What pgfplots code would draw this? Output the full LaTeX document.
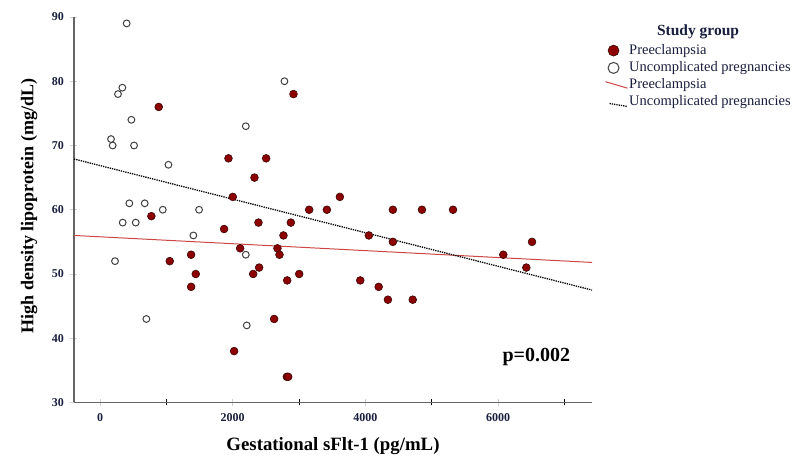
\documentclass[border=0pt]{standalone}
\usepackage{pgfplots}
\pgfplotsset{compat=1.18}
\usepackage{fontspec}
\setmainfont{Liberation Serif}
\definecolor{pe}{RGB}{140,0,0}
\definecolor{peedge}{RGB}{60,10,10}
\definecolor{redline}{RGB}{205,70,70}
\definecolor{ticktxt}{RGB}{25,30,60}
\definecolor{axgray}{RGB}{100,100,100}
\pgfplotsset{
  markleg/.style={legend image code/.code={\path[draw=none,fill=none] (0pt,0pt) -- (22pt,0pt);\draw[##1, mark size=5.5pt] plot[only marks] coordinates {(8pt,0pt)};}},
  redleg/.style={legend image code/.code={\path[draw=none,fill=none] (0pt,0pt) -- (22pt,0pt);\draw[##1] (0pt,3.5pt) -- (22pt,-3pt);}},
  dotleg/.style={legend image code/.code={\path[draw=none,fill=none] (0pt,0pt) -- (22pt,0pt);\draw[##1] (4pt,-1pt) -- (22pt,-4pt);}},
}
\begin{document}
\begin{tikzpicture}
\begin{axis}[
  at={(0,0)}, anchor=south west,
  scale only axis, width=518pt, height=385.5pt,
  xmin=-392, xmax=7415, ymin=30, ymax=90,
  axis lines*=left,
  axis line style={-, axgray, line width=1.3pt},
  xtick={0,2000,4000,6000},
  minor xtick={1000,3000,5000,7000},
  ytick={30,40,50,60,70,80,90},
  tick align=center,
  major tick length=7pt, minor tick length=6pt,
  tick style={gray!35, line width=0.8pt},
  minor tick style={black, line width=1pt},
  scaled x ticks=false,
  xticklabel style={font=\fontsize{12}{14}\selectfont\bfseries, text=ticktxt, yshift=-4pt},
  yticklabel style={font=\fontsize{12}{14}\selectfont\bfseries, text=ticktxt, xshift=-3pt},
  /pgf/number format/assume math mode=true,
  /pgf/number format/set thousands separator={},
  clip=false,
  legend style={at={(1.019,0.938)}, anchor=north west, draw=none, fill=none,
    font=\fontsize{14.5}{16}\selectfont, text=ticktxt,
    nodes={inner sep=1pt, text height=10pt, text depth=3pt},
    row sep=2.3pt},
  legend cell align=left,
]
\addplot[only marks, mark=*, mark size=3.9pt, mark options={fill=pe, draw=peedge, line width=0.6pt}, markleg]
coordinates {
(885,76)(2916,78)
(1936,68)(2504,68)
(2328,65)
(2001,62)(3615,62)
(3152,60)(3419,60)(4414,60)(4852,60)(5320,60)
(774,59)
(2388,58)(2876,58)
(1870,57)
(2765,56)(4052,56)
(4414,55)(6511,55)
(2112,54)(2674,54)
(2705,53)(1373,53)(6078,53)
(1051,52)
(2398,51)(6425,51)
(2308,50)(1443,50)(3002,50)
(2821,49)(3922,49)
(1373,48)(4200,48)
(4339,46)(4713,46)
(2624,43)
(2021,38)
(2816,34)(2836,34)
};
\addlegendentry{Preeclampsia}
\addplot[only marks, mark=*, mark size=3.4pt, mark options={fill=white, draw=black!75, line width=1pt}, markleg]
coordinates {
(402,89)(337,79)(271,78)(2780,80)(473,74)(2197,73)(166,71)(191,70)(513,70)
(1031,67)(442,61)(674,61)(946,60)(1493,60)(342,58)(538,58)(1407,56)
(2197,53)(226,52)(699,43)(2212,42)
};
\addlegendentry{Uncomplicated pregnancies}
\addplot[redline, line width=1pt, redleg]
coordinates {(-392,56.0)(7415,51.8)};
\addlegendentry{Preeclampsia}
\addplot[black, densely dotted, line width=1.3pt, dotleg]
coordinates {(-392,67.9)(7415,47.5)};
\addlegendentry{Uncomplicated pregnancies}
\node[font=\fontsize{20}{24}\selectfont\bfseries] at (axis cs:6576,37.1) {p=0.002};
\end{axis}
\node[font=\fontsize{15.5}{18}\selectfont\bfseries, text=ticktxt] at (624pt,370.5pt) {Study group};
\node[font=\fontsize{18}{21}\selectfont\bfseries, rotate=90] at (-45pt,196.5pt) {High density lipoprotein (mg/dL)};
\node[font=\fontsize{18.8}{22}\selectfont\bfseries] at (259pt,-43.5pt) {Gestational sFlt-1 (pg/mL)};
\pgfresetboundingbox
\path[use as bounding box] (-74pt,-59.5pt) rectangle (724pt,402.5pt);
\end{tikzpicture}
\end{document}
